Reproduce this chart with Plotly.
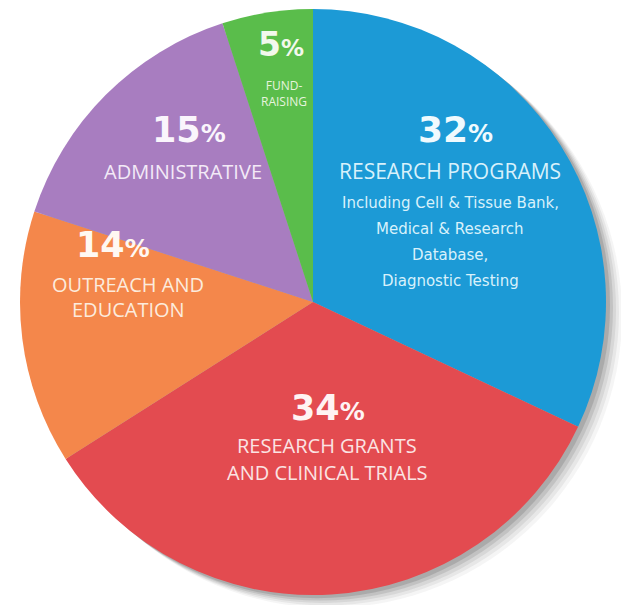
import plotly.graph_objects as go

labels = ["Research Programs", "Research Grants and Clinical Trials", "Outreach and Education", "Administrative", "Fund-raising"]
values = [32, 34, 14, 15, 5]
colors = ["#1C9AD6", "#E34B50", "#F4874B", "#A87DC0", "#5ABD4B"]

W, H = 621, 605
cx, cy, r = 313, 302, 293  # pixel centre (from top) and radius

fig = go.Figure()

# soft shadow circles (right / bottom)
for off, op in [(16, 0.05), (13, 0.07), (10, 0.09), (7, 0.12), (4, 0.16)]:
    fig.add_shape(type="circle", xref="paper", yref="paper", layer="below",
                  x0=(cx - r + off) / W, x1=(cx + r + off) / W,
                  y0=(H - (cy + r + off * 0.8)) / H, y1=(H - (cy - r + off * 0.8)) / H,
                  fillcolor=f"rgba(50,50,50,{op})", line=dict(width=0))

fig.add_trace(go.Pie(
    labels=labels, values=values, sort=False, direction="clockwise", rotation=0,
    marker=dict(colors=colors, line=dict(width=0)),
    textinfo="none", hoverinfo="label+percent", showlegend=False,
    domain=dict(x=[(cx - r) / W, (cx + r) / W], y=[(H - cy - r) / H, (H - cy + r) / H]),
))

CAPS = "Open Sans"
SMALL = "DejaVu Sans"
NUM = "DejaVu Sans"

def ann(x, y, text, size, color="white", family=CAPS):
    fig.add_annotation(x=x / W, y=1 - y / H, xref="paper", yref="paper", text=text,
                       showarrow=False, xanchor="center", yanchor="middle",
                       font=dict(family=family, size=size, color=color))

def pct(x, y, num, size, color="white"):
    fig.add_annotation(x=x / W, y=1 - y / H, xref="paper", yref="paper",
                       text=f"<b>{num}</b><span style='font-size:{int(size*0.72)}px'><b>%</b></span>",
                       showarrow=False, xanchor="center", yanchor="middle",
                       font=dict(family=NUM, size=size, color=color))

# Fund-raising
pct(281, 45, "5", 33, "#F2F8EC")
ann(284, 93, "FUND-<br>RAISING", 12, "#E6F4DE")

# Research programs
pct(455, 130, "32", 36, "#F0FAFE")
ann(450, 171, "RESEARCH PROGRAMS", 21, "#D8F1FB")
ann(450, 203, "Including Cell &amp; Tissue Bank,", 15, "#D8F1FB", SMALL)
ann(450, 229, "Medical &amp; Research", 15, "#D8F1FB", SMALL)
ann(450, 255, "Database,", 15, "#D8F1FB", SMALL)
ann(450, 281, "Diagnostic Testing", 15, "#D8F1FB", SMALL)

# Administrative
pct(189, 130, "15", 35, "#FAF5FC")
ann(183, 171, "ADMINISTRATIVE", 20, "#F3EAF7")

# Outreach
pct(113, 245, "14", 35, "#FFF8F2")
ann(128, 284, "OUTREACH AND", 20, "#FCEBDD")
ann(128, 309, "EDUCATION", 20, "#FCEBDD")

# Research grants
pct(328, 408, "34", 35, "#FFF3F3")
ann(327, 445, "RESEARCH GRANTS", 20, "#FBE3E3")
ann(327, 472, "AND CLINICAL TRIALS", 20, "#FBE3E3")

fig.update_layout(width=W, height=H, margin=dict(l=0, r=0, t=0, b=0),
                  paper_bgcolor="white", plot_bgcolor="white")

fig.write_html("out.html")
